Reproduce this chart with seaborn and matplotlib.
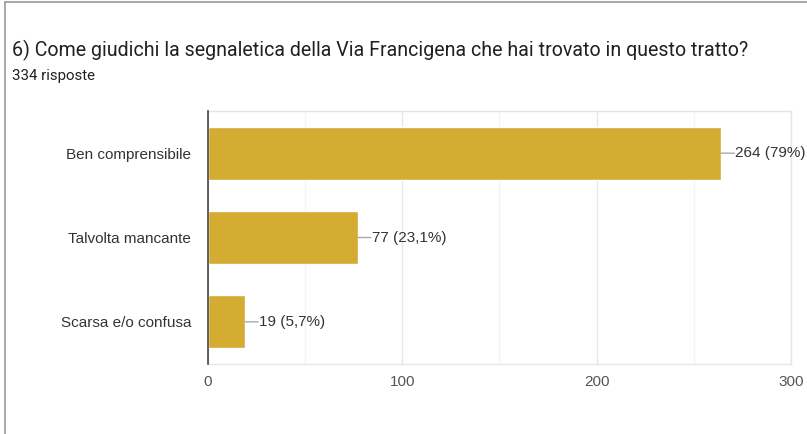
import matplotlib
matplotlib.use("Agg")
import matplotlib.pyplot as plt
import seaborn as sns
import pandas as pd
from matplotlib.lines import Line2D

# data
categories = ["Ben comprensibile", "Talvolta mancante", "Scarsa e/o confusa"]
counts = [264, 77, 19]
pct_labels = ["79%", "23,1%", "5,7%"]
title = "6) Come giudichi la segnaletica della Via Francigena che hai trovato in questo tratto?"
subtitle = "334 risposte"
xticks = [0, 100, 200, 300]

df = pd.DataFrame({"risposta": categories, "n": counts})

sns.set_style("white")
plt.rcParams["font.family"] = ["Liberation Sans", "DejaVu Sans"]

fig = plt.figure(figsize=(8.07, 4.34), dpi=100)
ax = fig.add_axes([0.2577, 0.1613, 0.9802 - 0.2577, 0.7442 - 0.1613])

sns.barplot(data=df, x="n", y="risposta", orient="h", color="#D4AC32",
            saturation=1, width=0.63, ax=ax, zorder=3)

ax.set_xlim(0, 300)
ax.set_ylim(2.5, -0.5)
ax.set_xticks(xticks)
ax.set_xticks([50, 150, 250], minor=True)
ax.grid(axis="x", which="major", color="#e6e6e6", lw=1, zorder=0)
ax.grid(axis="x", which="minor", color="#f4f4f4", lw=1, zorder=0)
ax.set_axisbelow(True)
ax.set_xlabel("")
ax.set_ylabel("")
ax.tick_params(axis="x", which="both", length=0, labelsize=11, labelcolor="#555555", pad=8)
ax.tick_params(axis="y", length=0, labelsize=11, labelcolor="#333333", pad=12)

for side in ["top", "right", "bottom"]:
    ax.spines[side].set_color("#e6e6e6")
    ax.spines[side].set_linewidth(1)
ax.spines["left"].set_color("#444444")
ax.spines["left"].set_linewidth(1.2)
ax.spines["left"].set_zorder(5)

# value labels with short leader lines
for i, (v, p) in enumerate(zip(counts, pct_labels)):
    ax.annotate("", xy=(v, i), xytext=(9.5, 0), textcoords="offset points",
                arrowprops=dict(arrowstyle="-", color="#aaaaaa", lw=1,
                                shrinkA=0, shrinkB=0))
    ax.annotate(f"{v} ({p})", xy=(v, i), xytext=(10, 0), textcoords="offset points",
                ha="left", va="center", fontsize=11, color="#333333")

fig.text(12 / 807, 1 - 50 / 434, title, fontsize=14.1, color="#202124",
         family=["Roboto", "DejaVu Sans"], va="center", ha="left")
fig.text(12 / 807, 1 - 76 / 434, subtitle, fontsize=10.8, color="#202124",
         family=["Roboto", "DejaVu Sans"], va="center", ha="left")

# frame lines of the screenshot
fig.add_artist(Line2D([4.5 / 807, 4.5 / 807], [0, 1 - 2 / 434], color="#9a9a9a", lw=1.2))
fig.add_artist(Line2D([4.5 / 807, 1], [1 - 2 / 434, 1 - 2 / 434], color="#9a9a9a", lw=1.2))

fig.savefig("out.png", dpi=100)
